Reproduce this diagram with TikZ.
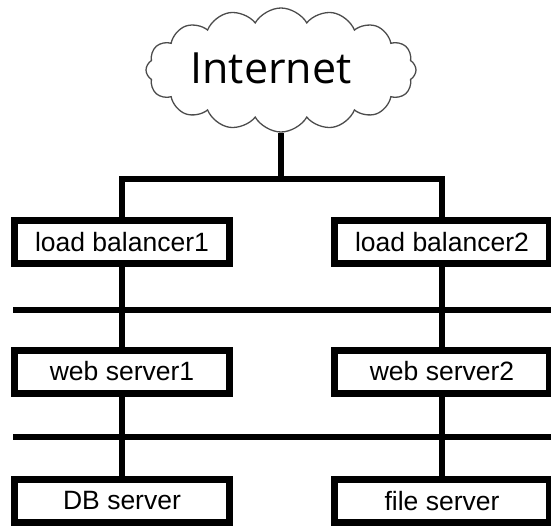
\documentclass[tikz,border=0pt]{standalone}
\usepackage{fontspec}
\setmainfont{Liberation Sans}
\newfontfamily\cloudfont{Open Sans}
\usetikzlibrary{shapes.symbols}

\begin{document}
\begin{tikzpicture}[x=1pt,y=-1pt,
  box/.style={draw, line width=7pt, inner sep=0pt, minimum width=215pt,
    minimum height=43pt, font=\fontsize{26.5}{30}\selectfont},
  wire/.style={line width=6pt}]
\useasboundingbox (0,0) rectangle (551,526);

% the cloud on top
\node[cloud, draw=black!70, line width=1.3pt, cloud puffs=16, cloud puff arc=120,
  aspect=2.2, minimum width=270pt, minimum height=124pt, inner sep=0pt] (net) at (281,70) {};
\node[font=\cloudfont\fontsize{43}{48}\selectfont] (netlabel) at (271,68) {Internet};

% machines
\node[box] (lb1) at (122,242) {load balancer1};
\node[box] (lb2) at (442,242) {load balancer2};
\node[box] (ws1) at (122,371.5) {web server1};
\node[box] (ws2) at (442,371.5) {web server2};
\node[box] (db) at (122,501) {DB server};
\node[box] (fs) at (442,501) {file server};

\coordinate (hub) at (0,179);
\coordinate (busA-l) at (13,310);
\coordinate (busA-r) at (551,310);
\coordinate (busB-l) at (13,437);
\coordinate (busB-r) at (551,437);

\path[draw,wire] (net.south) -- (net.south |- hub);
\path[draw,wire] (lb1.north) |- (net.south |- hub) -| (lb2.north);
\path[draw,wire] (busA-l) -- (busA-r);
\path[draw,wire] (busB-l) -- (busB-r);
\path[draw,wire] (lb1.south) -- (ws1.north);
\path[draw,wire] (lb2.south) -- (ws2.north);
\path[draw,wire] (ws1.south) -- (db.north);
\path[draw,wire] (ws2.south) -- (fs.north);
\end{tikzpicture}
\end{document}
